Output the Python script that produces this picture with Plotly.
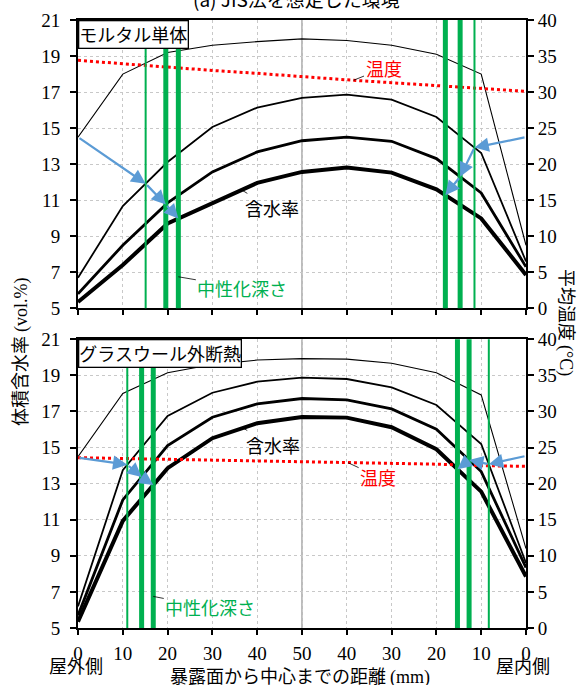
import numpy as np
import plotly.graph_objects as go

# ---------------- data ----------------
x_pos = [0, 10, 20, 30, 40, 50, 60, 70, 80, 90, 100]
x_tick_text = ["0", "10", "20", "30", "40", "50", "40", "30", "20", "10", "0"]

# モルタル単体 (top panel) moisture content curves (vol.%)
mortar_1 = [14.5, 18.0, 19.2, 19.6, 19.8, 19.95, 19.86, 19.6, 19.1, 18.0, 8.5]
mortar_2 = [6.7, 10.67, 13.12, 15.06, 16.14, 16.68, 16.86, 16.58, 15.62, 13.62, 7.6]
mortar_3 = [5.8, 8.5, 10.85, 12.57, 13.68, 14.3, 14.5, 14.27, 13.31, 11.4, 7.3]
mortar_4 = [5.35, 7.4, 9.71, 10.85, 11.96, 12.57, 12.81, 12.53, 11.6, 9.99, 6.85]
mortar_temp = [34.4, 33.9, 33.5, 33.0, 32.6, 32.1, 31.7, 31.3, 30.9, 30.5, 30.1]

# グラスウール外断熱 (bottom panel)
glass_1 = [14.5, 18.0, 19.15, 19.6, 19.85, 19.93, 19.9, 19.67, 19.15, 17.92, 9.4]
glass_2 = [6.2, 13.75, 16.75, 18.04, 18.65, 18.88, 18.8, 18.34, 17.36, 15.2, 8.6]
glass_3 = [5.7, 12.1, 15.11, 16.68, 17.42, 17.72, 17.64, 17.14, 16.02, 13.67, 8.35]
glass_4 = [5.35, 10.94, 13.86, 15.52, 16.35, 16.7, 16.66, 16.13, 14.91, 12.56, 7.85]
glass_temp = [23.6, 23.5, 23.4, 23.3, 23.2, 23.0, 22.9, 22.8, 22.7, 22.5, 22.4]

# 中性化深さ (carbonation depth positions, mm on 0-100 scale)
mortar_depth_left = [15.1, 19.6, 22.4]     # thin, thick, thick
mortar_depth_right = [88.5, 85.3, 82.0]    # thin, thick, thick
glass_depth_left = [11.0, 14.2, 16.8]
glass_depth_right = [91.7, 87.3, 84.7]

# arrow start values (vol.%)
mortar_arrow_start = [14.5, 14.5]
glass_arrow_start = [14.44, 14.54]

# ---------------- styles ----------------
CJK = "Noto Sans CJK JP"
SERIF = "Liberation Serif"
GREEN = "#00B050"
BLUE = "#5B9BD5"
widths = [1.1, 1.8, 2.8, 4.0]

fig = go.Figure()

panels = [
    dict(curves=[mortar_1, mortar_2, mortar_3, mortar_4], temp=mortar_temp,
         xa="x", ya="y", yt="y2", dl=mortar_depth_left, dr=mortar_depth_right,
         starts=mortar_arrow_start),
    dict(curves=[glass_1, glass_2, glass_3, glass_4], temp=glass_temp,
         xa="x2", ya="y3", yt="y4", dl=glass_depth_left, dr=glass_depth_right,
         starts=glass_arrow_start),
]

shapes = []
annotations = []

for p in panels:
    for c, w in zip(p["curves"], widths):
        fig.add_trace(go.Scatter(x=x_pos, y=c, mode="lines", xaxis=p["xa"], yaxis=p["ya"],
                                 line=dict(color="black", width=w), showlegend=False,
                                 hoverinfo="skip"))
    fig.add_trace(go.Scatter(x=x_pos, y=p["temp"], mode="lines", xaxis=p["xa"], yaxis=p["yt"],
                             line=dict(color="#FF0000", width=3, dash="dot"), showlegend=False,
                             hoverinfo="skip"))
    # center line
    shapes.append(dict(type="line", xref=p["xa"], yref=p["ya"] + " domain", x0=50, x1=50,
                       y0=0, y1=1, line=dict(color="#a6a6a6", width=1.5), layer="below"))
    # green lines
    for i, d in enumerate(p["dl"]):
        shapes.append(dict(type="line", xref=p["xa"], yref=p["ya"] + " domain", x0=d, x1=d,
                           y0=0, y1=1, line=dict(color=GREEN, width=2 if i == 0 else 5),
                           layer="above"))
    for i, d in enumerate(p["dr"]):
        shapes.append(dict(type="line", xref=p["xa"], yref=p["ya"] + " domain", x0=d, x1=d,
                           y0=0, y1=1, line=dict(color=GREEN, width=2 if i == 0 else 5),
                           layer="above"))
    # blue arrows
    for side, depths, x_start, s in [("l", p["dl"], 0, p["starts"][0]),
                                     ("r", p["dr"], 100, p["starts"][1])]:
        pts = [(x_start, s)]
        for d, c in zip(depths, p["curves"][1:]):
            pts.append((d, float(np.interp(d, x_pos, c))))
        for (x0, y0), (x1, y1) in zip(pts[:-1], pts[1:]):
            annotations.append(dict(x=x1, y=y1, ax=x0, ay=y0, xref=p["xa"], yref=p["ya"],
                                    axref=p["xa"], ayref=p["ya"], text="", showarrow=True,
                                    arrowhead=2, arrowsize=1.3, arrowwidth=2.2,
                                    arrowcolor=BLUE, standoff=0))

# leader-line labels
def label(text, color, xa, ya, x, y, ax, ay):
    annotations.append(dict(x=x, y=y, xref=xa, yref=ya, text=text, showarrow=True,
                            ax=ax, ay=ay, arrowhead=0, arrowwidth=0.8, arrowcolor="black",
                            font=dict(family=CJK, size=18, color=color), standoff=0))

label("含水率", "black", "x", "y", 36.5, float(np.interp(36.5, x_pos, mortar_4)), 30, 18)
label("温度", "#FF0000", "x", "y2", 61.5, float(np.interp(61.5, x_pos, mortar_temp)), 30, -12)
label("中性化深さ", GREEN, "x", "y", mortar_depth_left[2], 6.75, 64, 11)
label("含水率", "black", "x2", "y3", 36.8, float(np.interp(36.8, x_pos, glass_4)), 30, 17)
label("温度", "#FF0000", "x2", "y4", 60.3, float(np.interp(60.3, x_pos, glass_temp)), 30, 14)
label("中性化深さ", GREEN, "x2", "y3", glass_depth_left[2], 6.75, 57, 11)

TOP_DOM = [0.5258, 1.0]
BOT_DOM = [0.0, 0.4748]

# panel labels
for txt, ytop in [("モルタル単体", TOP_DOM[1]), ("グラスウール外断熱", BOT_DOM[1])]:
    annotations.append(dict(x=0, y=ytop, xref="paper", yref="paper", xanchor="left",
                            yanchor="top", text=txt, showarrow=False,
                            font=dict(family=CJK, size=18, color="black"),
                            bgcolor="white", bordercolor="black", borderwidth=1.3,
                            borderpad=0))

def px_x(px):
    return (px - 78) / 448

def px_y(py):
    return (628 - py) / 608

def free_text(text, cx, cy, size=18, angle=0, height=None):
    a = dict(x=px_x(cx), y=px_y(cy), xref="paper", yref="paper",
             xanchor="center", yanchor="middle", text=text, textangle=angle,
             showarrow=False, font=dict(family=CJK, size=size, color="black"))
    if height is not None:
        a["height"] = height
    annotations.append(a)

free_text("(a) JIS法を想定した環境", 296, -1.5, size=19)
free_text("体積含水率 <span style='font-family:Liberation Serif'>(vol.%)</span>", 19, 352, angle=-90)
free_text("平均温度 <span style='font-family:Liberation Serif'>(°C)</span>", 568, 322, angle=90)
free_text("暴露面から中心までの距離 <span style='font-family:Liberation Serif'>(mm)</span>", 300, 675, height=20)
free_text("屋外側", 76, 665, height=20)
free_text("屋内側", 523, 665, height=20)

xaxis_common = dict(range=[0, 100], tickvals=x_pos, ticktext=x_tick_text, ticks="outside",
                    ticklen=5, tickcolor="black", tickwidth=1.5, showline=True,
                    linecolor="black", linewidth=2, mirror=True, showgrid=True,
                    gridcolor="#c8c8c8", griddash="dot", gridwidth=1, zeroline=False,
                    automargin=False, ticklabelstandoff=2,
                    tickfont=dict(family=SERIF, size=19, color="black"), domain=[0, 1])
yleft_common = dict(range=[5, 21], tick0=5, dtick=2, ticks="outside", ticklen=6,
                    tickcolor="black", tickwidth=1.5, showline=True, linecolor="black",
                    linewidth=2, showgrid=True, gridcolor="#c8c8c8", griddash="dot",
                    gridwidth=1, zeroline=False, ticklabelstandoff=6, automargin=False,
                    tickfont=dict(family=SERIF, size=19, color="black"))
yright_common = dict(range=[0, 40], tick0=0, dtick=5, ticks="outside", ticklen=6,
                     tickcolor="black", tickwidth=1.5, showline=True, linecolor="black",
                     linewidth=2, showgrid=False, zeroline=False, side="right",
                     automargin=False,
                     tickfont=dict(family=SERIF, size=19, color="black"))

fig.update_layout(
    width=580, height=686, autosize=False,
    margin=dict(l=78, r=54, t=20, b=58, autoexpand=False),
    paper_bgcolor="white", plot_bgcolor="white",
    font=dict(family=CJK, size=18, color="black"),
    showlegend=False,
    xaxis=dict(**xaxis_common, anchor="y", showticklabels=False),
    xaxis2=dict(**xaxis_common, anchor="y3", showticklabels=True),
    yaxis=dict(**yleft_common, domain=TOP_DOM, anchor="x"),
    yaxis2=dict(**yright_common, overlaying="y", anchor="x"),
    yaxis3=dict(**yleft_common, domain=BOT_DOM, anchor="x2"),
    yaxis4=dict(**yright_common, overlaying="y3", anchor="x2"),
    shapes=shapes,
    annotations=annotations,
)

fig.write_html("out.html", config={"responsive": False, "displayModeBar": False},
               post_script="document.body.style.margin='0';document.body.style.padding='0';")
